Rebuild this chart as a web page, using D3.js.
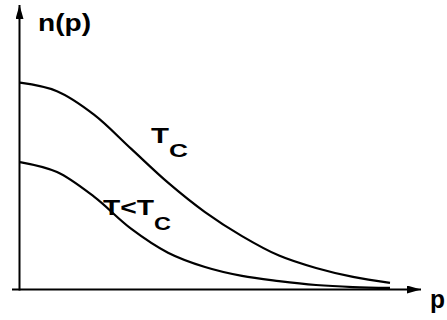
<!DOCTYPE html>
<html>
<head>
<meta charset="utf-8">
<script src="https://cdn.jsdelivr.net/npm/d3@7"></script>
<style>
  html, body { margin: 0; padding: 0; background: #fff; }
  svg { display: block; }
  text { font-family: "Liberation Sans", Arial, sans-serif; font-weight: bold; fill: #000; }
</style>
</head>
<body>
<svg id="chart" width="447" height="320"></svg>
<script>
// Momentum samples p and occupation n(p) for the two temperatures
const momenta = [0, 1, 2, 3, 4, 5, 6, 7, 8, 9, 10];
const nAtTc    = [1.0, 0.959, 0.846, 0.682, 0.518, 0.376, 0.260, 0.166, 0.106, 0.063, 0.034];
const nBelowTc = [0.617, 0.569, 0.450, 0.296, 0.180, 0.111, 0.068, 0.043, 0.024, 0.014, 0.010];

const svg = d3.select("#chart");

const x = d3.scaleLinear().domain([0, 10]).range([20, 390]);
const y = d3.scaleLinear().domain([0, 1]).range([290, 82.7]);

// Arrowheads for the axes
const defs = svg.append("defs");
defs.append("marker")
  .attr("id", "arrow")
  .attr("viewBox", "0 0 14 8")
  .attr("refX", 14).attr("refY", 4)
  .attr("markerWidth", 14).attr("markerHeight", 8)
  .attr("markerUnits", "userSpaceOnUse")
  .attr("orient", "auto")
  .append("path")
  .attr("d", "M0,0 L14,4 L0,8 Z")
  .attr("fill", "#000");

// Vertical axis n(p)
svg.append("line")
  .attr("x1", x(0) - 0.5).attr("y1", y(0) + 0.5)
  .attr("x2", x(0) - 0.5).attr("y2", 5)
  .attr("stroke", "#000").attr("stroke-width", 2)
  .attr("marker-end", "url(#arrow)");

// Horizontal axis p
svg.append("line")
  .attr("x1", 12).attr("y1", y(0) - 0.5)
  .attr("x2", 421).attr("y2", y(0) - 0.5)
  .attr("stroke", "#000").attr("stroke-width", 2)
  .attr("marker-end", "url(#arrow)");

const line = d3.line()
  .x((d, i) => x(momenta[i]))
  .y(d => y(d))
  .curve(d3.curveCatmullRom.alpha(0.5));

[nAtTc, nBelowTc].forEach(series => {
  svg.append("path")
    .datum(series)
    .attr("d", line)
    .attr("fill", "none")
    .attr("stroke", "#000")
    .attr("stroke-width", 2.2);
});

// Axis labels
svg.append("text").attr("x", 38).attr("y", 31)
  .attr("font-size", 23).attr("textLength", 53).attr("lengthAdjust", "spacingAndGlyphs")
  .text("n(p)");
svg.append("text").attr("x", 430).attr("y", 308)
  .attr("font-size", 25).attr("textLength", 15).attr("lengthAdjust", "spacingAndGlyphs")
  .text("p");

// Curve labels: T with subscript c
svg.append("text").attr("x", 151).attr("y", 143)
  .attr("font-size", 22).attr("textLength", 18).attr("lengthAdjust", "spacingAndGlyphs")
  .text("T");
svg.append("text").attr("x", 169).attr("y", 157)
  .attr("font-size", 19).attr("textLength", 19).attr("lengthAdjust", "spacingAndGlyphs")
  .text("C");

svg.append("text").attr("x", 103).attr("y", 215)
  .attr("font-size", 22).attr("textLength", 51).attr("lengthAdjust", "spacingAndGlyphs")
  .text("T<T");
svg.append("text").attr("x", 154).attr("y", 230)
  .attr("font-size", 19).attr("textLength", 17).attr("lengthAdjust", "spacingAndGlyphs")
  .text("C");
</script>
</body>
</html>
